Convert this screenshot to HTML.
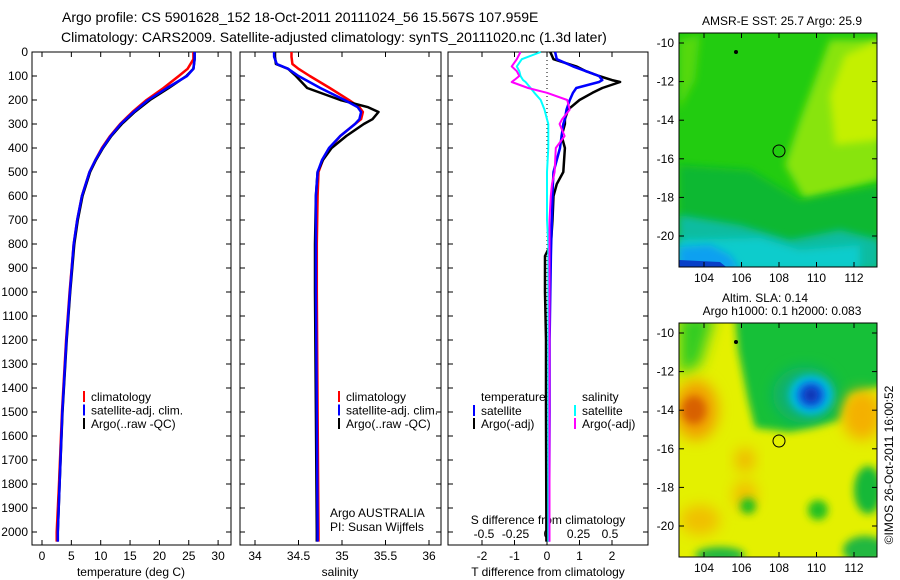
<!DOCTYPE html>
<html><head><meta charset="utf-8"><style>
body{margin:0;background:#fff;}
svg{display:block;font-family:"Liberation Sans",sans-serif;}
</style></head><body>
<svg id="s" width="900" height="580" viewBox="0 0 900 580">
<defs>
<filter id="bl" x="-50%" y="-50%" width="200%" height="200%"><feGaussianBlur stdDeviation="7"/></filter>
<filter id="bl2" x="-50%" y="-50%" width="200%" height="200%"><feGaussianBlur stdDeviation="4"/></filter>
<clipPath id="c1"><rect x="679" y="33" width="198" height="234"/></clipPath>
<clipPath id="c2"><rect x="679" y="323" width="198" height="234"/></clipPath>
</defs>
<text x="62" y="22" font-size="14">Argo profile: CS 5901628_152 18-Oct-2011 20111024_56 15.567S 107.959E</text>
<text x="61" y="42" font-size="14">Climatology: CARS2009. Satellite-adjusted climatology: synTS_20111020.nc (1.3d later)</text>
<g id="plots"></g>

<!-- SST map -->
<g clip-path="url(#c1)">
<rect x="679" y="33" width="198" height="234" fill="#22cc10"/>
<polygon points="679,40 700,35 695,80 679,110" fill="#55d810" filter="url(#bl2)"/>
<polygon points="830,40 880,40 880,180 805,200 785,165 800,120" fill="#88e410" filter="url(#bl2)"/>
<polygon points="845,55 880,40 880,140 835,145 830,95" fill="#c4f000" filter="url(#bl2)"/>
<polygon points="679,165 750,170 800,200 880,185 880,270 679,270" fill="#10b830" filter="url(#bl2)"/>
<polygon points="679,215 740,225 790,240 840,230 880,240 880,270 679,270" fill="#10bca0" filter="url(#bl2)"/>
<polygon points="679,240 760,238 800,250 860,245 860,270 679,270" fill="#10cccc" filter="url(#bl2)"/>
<polygon points="679,247 710,245 730,255 740,270 679,270" fill="#0aa0f0" filter="url(#bl2)"/>
<polygon points="679,260 720,262 730,270 679,270" fill="#0840c8"/>
<circle cx="779" cy="151" r="6" fill="none" stroke="#000" stroke-width="1"/>
<circle cx="736" cy="52" r="2" fill="#000"/>
</g>
<rect x="679" y="33" width="198" height="234" fill="none" stroke="#000"/>
<text x="782" y="25" font-size="12" text-anchor="middle">AMSR-E SST: 25.7 Argo: 25.9</text>

<!-- SLA map -->
<g clip-path="url(#c2)">
<rect x="679" y="323" width="198" height="234" fill="#e4f000"/>
<polygon points="735,315 885,315 885,385 850,395 840,420 790,432 755,428 748,400 738,350" fill="#18c038" filter="url(#bl2)"/>
<polygon points="679,315 715,315 700,365 679,375" fill="#30cc20" filter="url(#bl)"/>
<ellipse cx="805" cy="395" rx="32" ry="28" fill="#10b070" filter="url(#bl)"/>
<ellipse cx="811" cy="395" rx="22" ry="20" fill="#00c0e0" filter="url(#bl2)"/>
<ellipse cx="811" cy="395" rx="14" ry="13" fill="#1060e0" filter="url(#bl2)"/>
<ellipse cx="811" cy="395" rx="7" ry="7" fill="#0830b0" filter="url(#bl2)"/>
<ellipse cx="696" cy="410" rx="22" ry="30" fill="#f0a000" filter="url(#bl)"/>
<ellipse cx="694" cy="410" rx="12" ry="14" fill="#d86000" filter="url(#bl2)"/>
<ellipse cx="862" cy="415" rx="20" ry="25" fill="#f4b000" filter="url(#bl)"/>
<ellipse cx="745" cy="495" rx="12" ry="15" fill="#f0c000" filter="url(#bl)"/>
<ellipse cx="745" cy="460" rx="10" ry="12" fill="#f0b800" filter="url(#bl)"/>
<ellipse cx="700" cy="520" rx="20" ry="15" fill="#f0c000" filter="url(#bl)"/>
<ellipse cx="868" cy="490" rx="14" ry="24" fill="#18b838" filter="url(#bl2)"/>
<ellipse cx="748" cy="506" rx="8" ry="8" fill="#20c020" filter="url(#bl2)"/>
<ellipse cx="818" cy="510" rx="10" ry="10" fill="#20c020" filter="url(#bl2)"/>
<ellipse cx="720" cy="555" rx="25" ry="8" fill="#20b840" filter="url(#bl2)"/>
<ellipse cx="865" cy="550" rx="22" ry="14" fill="#20b840" filter="url(#bl2)"/>
<circle cx="779" cy="441" r="6" fill="none" stroke="#000" stroke-width="1"/>
<circle cx="736" cy="342" r="2" fill="#000"/>
</g>
<rect x="679" y="323" width="198" height="234" fill="none" stroke="#000"/>
<text x="765" y="302" font-size="12" text-anchor="middle">Altim. SLA: 0.14</text>
<text x="782" y="315" font-size="12" text-anchor="middle">Argo h1000: 0.1 h2000: 0.083</text>
<text transform="translate(893,465) rotate(-90)" font-size="12" text-anchor="middle">©IMOS 26-Oct-2011 16:00:52</text>
</svg>
<script>
// ---- data ----
const depthTicks=[0,100,200,300,400,500,600,700,800,900,1000,1100,1200,1300,1400,1500,1600,1700,1800,1900,2000];
const tempTicks=[0,5,10,15,20,25,30];
const salTicks=[34,34.5,35,35.5,36];
const salTickLabels=["34","34.5","35","35.5","36"];
const tdiffTicks=[-2,-1,0,1,2];
const sdiffTicks=[-0.5,-0.25,0,0.25,0.5];
const sdiffLabels=["-0.5","-0.25","0","0.25","0.5"];
const lonTicks=[104,106,108,110,112];
const latTicks=[-10,-12,-14,-16,-18,-20];

const depthT=[0,30,70,100,150,200,250,300,350,400,450,500,600,700,800,1000,1200,1500,1800,2000,2040];
const tempArgo=[26,26,25.8,24.6,21.6,18.4,15.8,13.6,11.8,10.4,9.2,8.2,6.9,6.1,5.5,4.8,4.2,3.5,3.0,2.7,2.7];
const tempClim=[25.8,25.8,24.8,23.3,20.7,17.8,15.4,13.3,11.6,10.2,9.1,8.1,6.8,6.0,5.4,4.7,4.1,3.4,2.9,2.5,2.5];
const tempSat=[26,26,25.8,24.7,21.3,18.1,15.6,13.4,11.7,10.3,9.1,8.1,6.8,6.0,5.4,4.75,4.15,3.45,3.0,2.7,2.7];

const depthS=[0,20,50,70,100,150,200,230,250,280,300,350,400,450,500,600,800,1000,1500,2000,2040];
const salArgo=[34.23,34.23,34.24,34.38,34.47,34.6,34.98,35.3,35.42,35.35,35.25,35.05,34.88,34.78,34.72,34.7,34.69,34.69,34.7,34.71,34.71];
const salClim=[34.42,34.42,34.43,34.5,34.63,34.86,35.08,35.2,35.24,35.22,35.15,34.98,34.86,34.78,34.73,34.72,34.71,34.71,34.72,34.73,34.73];
const salSat=[34.22,34.22,34.25,34.38,34.5,34.75,35.03,35.18,35.22,35.2,35.15,34.98,34.85,34.77,34.72,34.7,34.7,34.7,34.71,34.72,34.72];

const depthD=[0,30,60,80,100,117,125,150,170,200,240,280,300,350,400,500,550,600,700,800,850,1000,1200,1500,2000,2040];
const tdSat=[0.25,0.3,0.8,1.2,1.6,1.7,1.6,0.9,0.8,0.7,0.6,0.55,0.5,0.45,0.4,0.2,0.18,0.17,0.15,0.13,0.12,0.1,0.08,0.08,0.06,0.06];
const tdArgo=[0.1,0.2,0.9,1.2,1.6,2.0,2.25,1.7,1.4,1.0,0.65,0.55,0.55,0.45,0.55,0.5,0.3,0.2,0.17,0.12,-0.06,-0.06,-0.03,-0.03,-0.02,-0.02];
const sdSat=[-0.05,-0.2,-0.24,-0.22,-0.21,-0.19,-0.17,-0.13,-0.1,-0.05,-0.02,0.0,0.01,0.01,0.01,0.0,0.0,0.0,0.0,0.01,0.01,0.01,0.01,0.01,0.01,0.01];
const sdArgo=[-0.21,-0.24,-0.28,-0.24,-0.22,-0.26,-0.28,-0.15,0.0,0.16,0.18,0.12,0.1,0.14,0.07,0.06,0.04,0.03,0.02,0.02,0.02,0.02,0.02,0.02,0.02,0.02];

// ---- axes ----
const Y0=52, PXM=0.24, BOT=545;
const yD=d=>Y0+d*PXM;
const xT=v=>42+v*5.87;
const xS=v=>255+(v-34)*87;
const xTD=v=>547+v*32.5;
const xSD=v=>547+v*126;
const xLon=l=>704+(l-104)*18.75;
const yLat=(l,off)=>43+off+(-10-l)*19.3;

const NS="http://www.w3.org/2000/svg";
const svg=document.getElementById('s');
const g=document.getElementById('plots');
function el(t,a,p){const e=document.createElementNS(NS,t);for(const k in a)e.setAttribute(k,a[k]);(p||g).appendChild(e);return e;}
function txt(x,y,s,anchor,size){const e=el('text',{x:x,y:y,'font-size':size||12,'text-anchor':anchor||'middle'});e.textContent=s;return e;}

const panels=[{l:32,r:231,n:'temperature'},{l:240,r:441,n:'salinity'},{l:448,r:648,n:'difference'}];
panels.forEach(p=>{
  const f=el('rect',{x:p.l,y:Y0,width:p.r-p.l,height:BOT-Y0,fill:'none',stroke:'#000'});
  
  
  depthTicks.forEach(d=>{
    el('line',{x1:p.l,x2:p.l+5,y1:yD(d),y2:yD(d),stroke:'#000'});
    el('line',{x1:p.r-5,x2:p.r,y1:yD(d),y2:yD(d),stroke:'#000'});
  });
});
depthTicks.forEach(d=>{
  const t=txt(28,yD(d)+4,String(d),'end',12);
  
  
});
function xaxis(ticks,labels,fx){
  ticks.forEach((v,i)=>{
    el('line',{x1:fx(v),x2:fx(v),y1:BOT,y2:BOT-5,stroke:'#000'});
    el('line',{x1:fx(v),x2:fx(v),y1:Y0,y2:Y0+5,stroke:'#000'});
    const t=txt(fx(v),560,labels[i]);
    
    
  });
}
xaxis(tempTicks,tempTicks.map(String),xT);
xaxis(salTicks,salTickLabels,xS);
xaxis(tdiffTicks,tdiffTicks.map(String),xTD);
sdiffTicks.forEach((v,i)=>{
  const t=txt(xSD(v),538,sdiffLabels[i]);
  
  
});
let t1=txt(131,576,'temperature (deg C)');
let t2=txt(340,576,'salinity');
let t3=txt(548,576,'T difference from climatology');
let t4=txt(548,524,'S difference from climatology');
let t5=txt(330,517,'Argo AUSTRALIA','start');
let t6=txt(330,531,'PI: Susan Wijffels','start');

el('line',{x1:xTD(0),x2:xTD(0),y1:Y0,y2:BOT,stroke:'#000','stroke-dasharray':'1,3'});

function series(depths,vals,fx,color,name,w){
  const pts=depths.map((d,i)=>fx(vals[i]).toFixed(1)+','+yD(d).toFixed(1)).join(' ');
  const e=el('polyline',{points:pts,fill:'none',stroke:color,'stroke-width':w||2.5,'stroke-linejoin':'round'});
  
  
}
series(depthT,tempClim,xT,'#f00','temp-climatology-line');
series(depthT,tempArgo,xT,'#000','temp-argo-line');
series(depthT,tempSat,xT,'#00f','temp-satellite-line');
series(depthS,salClim,xS,'#f00','sal-climatology-line');
series(depthS,salArgo,xS,'#000','sal-argo-line');
series(depthS,salSat,xS,'#00f','sal-satellite-line');
series(depthD,tdArgo,xTD,'#000','tdiff-argo-line');
series(depthD,tdSat,xTD,'#00f','tdiff-satellite-line');
series(depthD,sdSat,xSD,'#0ff','sdiff-satellite-line',2);
series(depthD,sdArgo,xSD,'#f0f','sdiff-argo-line',2);

function legend(x,y,color,label){
  const m=el('rect',{x:x,y:y-6,width:2,height:11,fill:color});
  
  
  const t=txt(x+8,y+4,label,'start');
  
  
}
[[83,'#f00','climatology'],[83,'#00f','satellite-adj. clim.'],[83,'#000','Argo(..raw -QC)']].forEach((a,i)=>legend(a[0],397+i*13.5,a[1],a[2]));
[[338,'#f00','climatology'],[338,'#00f','satellite-adj. clim.'],[338,'#000','Argo(..raw -QC)']].forEach((a,i)=>legend(a[0],397+i*13.5,a[1],a[2]));
let lt=txt(481,401,'temperature','start');
let ls=txt(582,401,'salinity','start');
legend(473,411,'#00f','satellite');legend(473,424,'#000','Argo(-adj)');
legend(574,411,'#0ff','satellite');legend(574,424,'#f0f','Argo(-adj)');

[0,290].forEach(off=>{
  lonTicks.forEach(l=>{
    el('line',{x1:xLon(l),x2:xLon(l),y1:267+off,y2:262+off,stroke:'#000'},svg);
    el('line',{x1:xLon(l),x2:xLon(l),y1:33+off,y2:38+off,stroke:'#000'},svg);
    const t=txt(xLon(l),282+off,String(l));svg.appendChild(t);
    
    
  });
  latTicks.forEach(l=>{
    el('line',{x1:679,x2:684,y1:yLat(l,off),y2:yLat(l,off),stroke:'#000'},svg);
    el('line',{x1:872,x2:877,y1:yLat(l,off),y2:yLat(l,off),stroke:'#000'},svg);
    const t=txt(674,yLat(l,off)+4,String(l),'end');svg.appendChild(t);
    
    
  });
});
</script>
</body></html>
